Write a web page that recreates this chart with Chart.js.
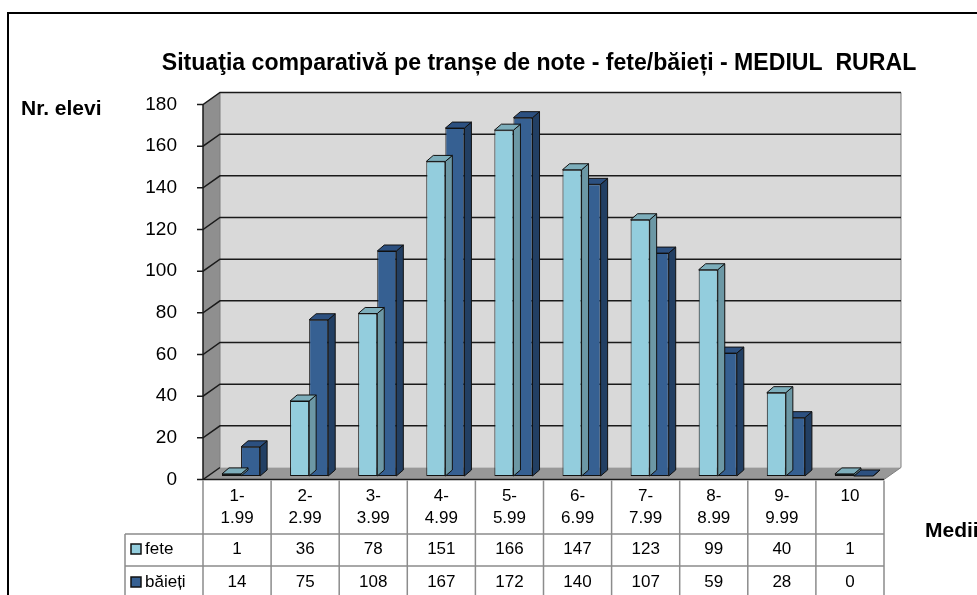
<!DOCTYPE html>
<html>
<head>
<meta charset="utf-8">
<script src="https://cdn.jsdelivr.net/npm/chart.js@4/dist/chart.umd.min.js"></script>
<style>
  body { margin: 0; background: #fff; }
  canvas { display: block; }
</style>
</head>
<body>
<canvas id="graficNote" width="977" height="595"></canvas>
<script>
// date
const categorii = [["1-", "1.99"], ["2-", "2.99"], ["3-", "3.99"], ["4-", "4.99"], ["5-", "5.99"],
                   ["6-", "6.99"], ["7-", "7.99"], ["8-", "8.99"], ["9-", "9.99"], ["10"]];
const fete = [1, 36, 78, 151, 166, 147, 123, 99, 40, 1];
const baieti = [14, 75, 108, 167, 172, 140, 107, 59, 28, 0];
const yTicks = [0, 20, 40, 60, 80, 100, 120, 140, 160, 180];

const titlu = "Situaţia comparativă pe tranșe de note - fete/băieți - MEDIUL  RURAL";

// adancimea peretilor 3D si a coloanelor
const ADX = 17, ADY = -12;
const BDX = 7, BDY = -6;
const SHIFT_X = 4, SHIFT_Y = -3.5;

const FONT = "'Liberation Sans', Arial, sans-serif";

const culori = {
    fete: { fata: "#93CDDD", sus: "#7DAEBB", lateral: "#6C98A5" },
    baieti: { fata: "#366092", sus: "#2C5080", lateral: "#223F63" }
};

const efect3D = {
    id: "efect3D",
    beforeDatasetsDraw(chart) {
        const ctx = chart.ctx;
        const a = chart.chartArea;
        const y = chart.scales.y;
        ctx.save();
        // perete spate
        ctx.fillStyle = "#D9D9D9";
        ctx.fillRect(a.left + ADX, a.top + ADY, a.right - a.left, a.bottom - a.top);
        // perete stanga
        ctx.fillStyle = "#8F8F8F";
        ctx.beginPath();
        ctx.moveTo(a.left, a.top);
        ctx.lineTo(a.left + ADX, a.top + ADY);
        ctx.lineTo(a.left + ADX, a.bottom + ADY);
        ctx.lineTo(a.left, a.bottom);
        ctx.closePath();
        ctx.fill();
        // podea
        ctx.fillStyle = "#989898";
        ctx.beginPath();
        ctx.moveTo(a.left, a.bottom);
        ctx.lineTo(a.left + ADX, a.bottom + ADY);
        ctx.lineTo(a.right + ADX, a.bottom + ADY);
        ctx.lineTo(a.right, a.bottom);
        ctx.closePath();
        ctx.fill();
        // margini
        ctx.strokeStyle = "#7F7F7F";
        ctx.lineWidth = 1;
        ctx.beginPath();
        ctx.moveTo(a.right + ADX, a.top + ADY);
        ctx.lineTo(a.right + ADX, a.bottom + ADY);
        ctx.lineTo(a.right, a.bottom);
        ctx.moveTo(a.left + ADX, a.top + ADY);
        ctx.lineTo(a.left + ADX, a.bottom + ADY);
        ctx.stroke();
        // linii de grila
        ctx.strokeStyle = "#1A1A1A";
        ctx.lineWidth = 1.5;
        yTicks.forEach(v => {
            const py = y.getPixelForValue(v);
            ctx.beginPath();
            ctx.moveTo(a.left - 6, py);
            ctx.lineTo(a.left, py);
            ctx.lineTo(a.left + ADX, py + ADY);
            if (v > 0) ctx.lineTo(a.right + ADX, py + ADY);
            ctx.stroke();
        });
        // axa verticala si muchia din fata a podelei
        ctx.beginPath();
        ctx.moveTo(a.left, a.top);
        ctx.lineTo(a.left, a.bottom);
        ctx.lineTo(a.right, a.bottom);
        ctx.stroke();
        ctx.restore();

        ctx.save();
        ctx.translate(SHIFT_X, SHIFT_Y);
    },
    afterDatasetDraw(chart, args) {
        const ctx = chart.ctx;
        const c = args.index === 0 ? culori.fete : culori.baieti;
        ctx.save();
        ctx.strokeStyle = "#111";
        ctx.lineWidth = 1;
        args.meta.data.forEach(bar => {
            const p = bar.getProps(["x", "y", "base", "width"], true);
            const l = p.x - p.width / 2, r = p.x + p.width / 2;
            const top = Math.min(p.y, p.base), jos = Math.max(p.y, p.base);
            // lateral
            ctx.fillStyle = c.lateral;
            ctx.beginPath();
            ctx.moveTo(r, top);
            ctx.lineTo(r + BDX, top + BDY);
            ctx.lineTo(r + BDX, jos + BDY);
            ctx.lineTo(r, jos);
            ctx.closePath();
            ctx.fill();
            ctx.stroke();
            // sus
            ctx.fillStyle = c.sus;
            ctx.beginPath();
            ctx.moveTo(l, top);
            ctx.lineTo(l + BDX, top + BDY);
            ctx.lineTo(r + BDX, top + BDY);
            ctx.lineTo(r, top);
            ctx.closePath();
            ctx.fill();
            ctx.stroke();
        });
        ctx.restore();
    },
    afterDatasetsDraw(chart) {
        chart.ctx.restore();
    },
    afterDraw(chart) {
        const ctx = chart.ctx;
        const a = chart.chartArea;
        const x = chart.scales.x;
        const w = (a.right - a.left) / categorii.length;
        ctx.save();

        // chenar
        ctx.strokeStyle = "#000";
        ctx.lineWidth = 2;
        ctx.strokeRect(8, 13, 1200, 900);

        // titlu si etichete axe
        ctx.fillStyle = "#000";
        ctx.textBaseline = "middle";
        ctx.textAlign = "center";
        ctx.font = "bold 20px " + FONT;
        const marime = 20 * 754 / ctx.measureText(titlu).width;
        ctx.font = "bold " + marime.toFixed(1) + "px " + FONT;
        ctx.fillText(titlu, 539, 64);
        ctx.textAlign = "left";
        ctx.font = "bold 21px " + FONT;
        ctx.fillText("Nr. elevi", 21, 109);
        ctx.fillText("Medii", 925, 531);

        // tabelul de date
        const r0 = a.bottom, r1 = 534, r2 = 566, r3 = 600;
        ctx.strokeStyle = "#8C8C8C";
        ctx.lineWidth = 1.5;
        ctx.beginPath();
        for (let i = 0; i <= categorii.length; i++) {
            const px = a.left + i * w;
            ctx.moveTo(px, r0 + 1);
            ctx.lineTo(px, r3);
        }
        ctx.moveTo(125, r1); ctx.lineTo(a.right, r1);
        ctx.moveTo(125, r2); ctx.lineTo(a.right, r2);
        ctx.moveTo(125, r1); ctx.lineTo(125, r3);
        ctx.stroke();

        ctx.fillStyle = "#000";
        ctx.textAlign = "center";
        ctx.font = "17px " + FONT;
        categorii.forEach((cat, i) => {
            const px = x.getPixelForValue(i);
            cat.forEach((t, k) => ctx.fillText(t, px, 496 + k * 22));
            ctx.fillText(String(fete[i]), px, 549);
            ctx.fillText(String(baieti[i]), px, 582);
        });

        // cheile legendei
        const chei = [["fete", culori.fete.fata, 549], ["băieți", culori.baieti.fata, 582]];
        chei.forEach(([t, col, py]) => {
            ctx.fillStyle = col;
            ctx.fillRect(131, py - 5, 10, 10);
            ctx.strokeStyle = "#111";
            ctx.lineWidth = 1.5;
            ctx.strokeRect(131, py - 5, 10, 10);
            ctx.fillStyle = "#000";
            ctx.textAlign = "left";
            ctx.fillText(t, 145, py);
        });
        ctx.restore();
    }
};

new Chart(document.getElementById("graficNote"), {
    type: "bar",
    data: {
        labels: categorii.map(c => c.join(" ")),
        datasets: [
            {
                label: "fete",
                data: fete,
                backgroundColor: culori.fete.fata,
                borderColor: "#111",
                borderWidth: 1,
                borderSkipped: false,
                clip: false
            },
            {
                label: "băieți",
                data: baieti,
                backgroundColor: culori.baieti.fata,
                borderColor: "#111",
                borderWidth: 1,
                borderSkipped: false,
                clip: false
            }
        ]
    },
    options: {
        responsive: false,
        devicePixelRatio: 1,
        animation: false,
        categoryPercentage: 0.56,
        barPercentage: 1,
        layout: { padding: { top: 104.5, right: 93, bottom: 115.5, left: 0 } },
        plugins: {
            legend: { display: false },
            title: { display: false },
            tooltip: { enabled: false }
        },
        scales: {
            x: { display: false },
            y: {
                min: 0,
                max: 180,
                afterFit: s => { s.width = 203; },
                afterBuildTicks: s => { s.ticks = yTicks.map(v => ({ value: v })); },
                grid: { display: false },
                border: { display: false },
                ticks: {
                    color: "#000",
                    padding: 18,
                    font: { family: FONT, size: 19 }
                }
            }
        }
    },
    plugins: [efect3D]
});
</script>
</body>
</html>
